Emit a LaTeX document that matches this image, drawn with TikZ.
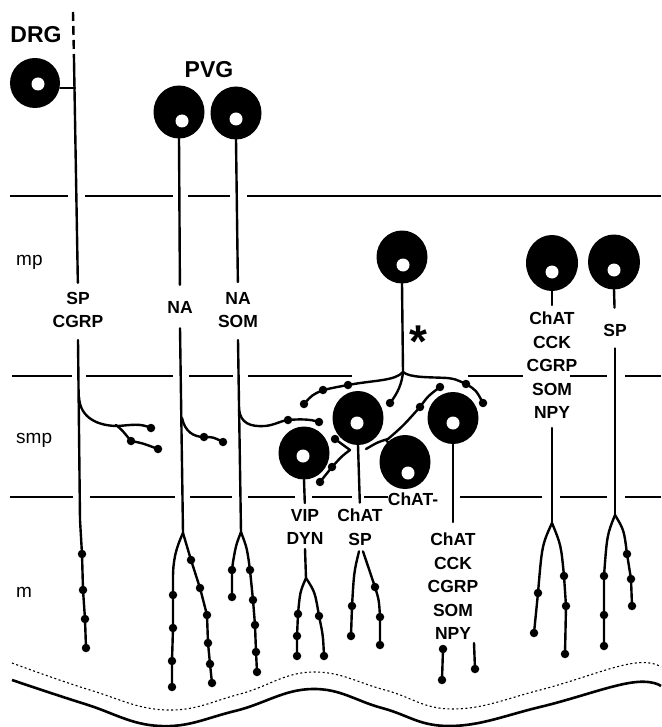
\documentclass[tikz,border=0pt]{standalone}
\usepackage{fontspec}
\setmainfont{Liberation Sans}
\usetikzlibrary{shapes.geometric}
\tikzset{
  cell/.style={ellipse, fill=black, minimum width=51pt, minimum height=53pt, inner sep=0pt},
  hole/.style={circle, fill=white, minimum size=13pt, inner sep=0pt},
  fibre/.style={line width=2.4pt, line cap=round, line join=round},
  layer/.style={line width=1.5pt},
  varic/.style={circle, fill=black, minimum size=8.5pt, inner sep=0pt},
  tag/.style={font=\bfseries\fontsize{17.5}{23.5}\selectfont, align=center, inner sep=0pt},
  zone/.style={font=\fontsize{19}{19}\selectfont, anchor=base west, inner sep=0pt},
  gang/.style={font=\bfseries\fontsize{23}{23}\selectfont, inner sep=0pt}
}

\begin{document}
\begin{tikzpicture}[x=1pt, y=-1pt]
  \useasboundingbox (0,0) rectangle (661,727);
  % layer boundaries
  \foreach \a/\b in {10/68, 85/173, 188/230, 247/661}
    \draw[layer] (\a,196) -- (\b,196);
  \foreach \a/\b in {12/72, 86/173, 189/233, 248/352, 468/523, 570/607, 625/661}
    \draw[layer] (\a,376) -- (\b,376);
  \foreach \a/\b in {10/73, 90/175, 190/232, 248/295, 312/352, 364/388, 460/542, 560/607, 625/661}
    \draw[layer] (\a,497) -- (\b,497);
  \node[zone] at (16,265) {mp};
  \node[zone] at (16,443) {smp};
  \node[zone] at (16,597) {m};

  % ganglia
  \node[gang] (dl) at (36,35) {DRG};
  \node[gang] (pl) at (209,70) {PVG};
  \node[cell, minimum width=50pt, minimum height=50pt] (d) at (35,83) {};
  \node[hole] at (38,84) {};
  \node[cell] (p1) at (179,112) {};
  \node[hole] at (182,121) {};
  \node[cell] (p2) at (236,113) {};
  \node[hole] at (236,119) {};

  % myenteric cells
  \node[cell] (s) at (402,257) {};
  \node[hole] at (403,265) {};
  \node[cell, minimum width=52pt, minimum height=56pt] (r1) at (552,263) {};
  \node[hole] at (552,272) {};
  \node[cell, minimum width=52pt, minimum height=55pt] (r2) at (614,262) {};
  \node[hole] at (614,270) {};

  % submucous cells
  \node[cell] (v) at (304,453) {};
  \node[hole] at (303,456) {};
  \node[cell, minimum height=54pt] (c) at (358,418) {};
  \node[hole] at (357,423) {};
  \node[cell, minimum height=54pt] (cm) at (405,462) {};
  \node[hole] at (408,473) {};
  \node[cell, minimum height=52pt] (k) at (453,418) {};
  \node[hole] at (453,423) {};

  % labels
  \node[tag] (sc) at (78,310) {SP\\CGRP};
  \node[tag] (n1) at (180,307) {NA};
  \node[tag] (n2) at (238,310) {NA\\SOM};
  \node[tag] (vd) at (305,527) {VIP\\DYN};
  \node[tag] (cs) at (360,527) {ChAT\\SP};
  \node[tag] (cl) at (413,499) {ChAT-};
  \node[tag] (mk) at (453,586.5) {ChAT\\CCK\\CGRP\\SOM\\NPY};
  \node[tag] (rk) at (552,365.5) {ChAT\\CCK\\CGRP\\SOM\\NPY};
  \node[tag] (sp) at (615,330) {SP};
  \node[font=\bfseries\fontsize{46}{46}\selectfont, anchor=base, inner sep=0pt] (ast) at (418,357) {*};

  % DRG fibre
  \draw[fibre, line cap=butt, dash pattern=on 9pt off 5pt] (73,12) -- (74,60);
  \draw[fibre, shorten >=9pt] (74,60) -- (sc.north);
  \draw[fibre] ([yshift=-5pt]d.east) -- (75,88);
  \draw[fibre] ([yshift=-12pt]sc.south) -- (80,520) -- (82,554) node[varic]{} -- (83,590) node[varic]{}
    -- (85,619) node[varic]{} -- (86,648) node[varic]{};
  \draw[fibre] (79,397) .. controls (80,418) and (98,426) .. (118,426)
    .. controls (132,425) and (140,423) .. (151,428) node[varic]{};
  \draw[fibre] (116,425) .. controls (122,430) .. (131,441) node[varic]{}
    .. controls (142,443) .. (158,449) node[varic]{};

  % PVG fibres
  \draw[fibre, shorten >=16pt] (p1.south) -- (n1.north);
  \draw[fibre] ([yshift=-15pt]n1.south) -- (183,533);
  \draw[fibre] (182,418) .. controls (185,432) and (194,437) .. (204,437) node[varic]{}
    .. controls (213,437) .. (223,442) node[varic]{};
  \draw[fibre] (183,533) .. controls (176,548) and (173,560) .. (173,578) -- (173,595) node[varic]{}
    -- (173,628) node[varic]{} -- (172,661) node[varic]{} -- (172,687) node[varic]{};
  \draw[fibre] (183,533) -- (191,560) node[varic]{} -- (200,588) node[varic]{} -- (207,615) node[varic]{}
    -- (208,643) node[varic]{} -- (210,664) node[varic]{} -- (212,683) node[varic]{};
  \draw[fibre, shorten >=10pt] (p2.south) -- (n2.north);
  \draw[fibre] ([yshift=-12pt]n2.south) -- (241,532);
  \draw[fibre] (239,410) .. controls (241,423) and (250,427) .. (265,426)
    .. controls (275,425) and (280,421) .. (288,420) node[varic]{}
    .. controls (300,419) and (310,419) .. (319,422) node[varic]{};
  \draw[fibre] (241,532) .. controls (236,545) .. (233,562) -- (232,570) node[varic]{} -- (232,597) node[varic]{};
  \draw[fibre] (241,532) .. controls (247,548) .. (250,570) node[varic]{} -- (253,600) node[varic]{}
    -- (255,625) node[varic]{} -- (256,652) node[varic]{} -- (257,672) node[varic]{};

  % starred cell
  \draw[fibre] (s.south) -- (403,372) coordinate (b);
  \draw[fibre] (b) .. controls (395,381) and (375,380) .. (348,385) node[varic]{}
    .. controls (337,387) .. (323,390) node[varic]{} .. controls (312,395) .. (304,404) node[varic]{};
  \draw[fibre] (b) .. controls (402,383) and (398,393) .. (390,403) node[varic]{};
  \draw[fibre] (b) .. controls (410,378) and (430,377) .. (447,378)
    .. controls (455,379) .. (466,384) node[varic]{} .. controls (476,390) .. (483,403) node[varic]{};

  % submucous processes
  \draw[fibre] (366,449) .. controls (378,442) .. (388,439) .. controls (403,426) .. (420,407) node[varic]{}
    .. controls (428,396) .. (440,387) node[varic]{};
  \draw[fibre] (386,440) -- (392,447);
  \draw[fibre] (335,439) node[varic]{} -- (350,450) .. controls (342,456) .. (332,467) node[varic]{}
    .. controls (326,474) .. (320,482) node[varic]{};

  \draw[fibre, shorten >=6pt] (v.south) -- (vd.north);
  \draw[fibre] ([yshift=-4pt]vd.south) -- (306,578);
  \draw[fibre] (306,578) .. controls (300,592) .. (298,614) node[varic]{} -- (297,636) node[varic]{} -- (297,656) node[varic]{};
  \draw[fibre] (306,578) .. controls (315,592) .. (319,616) node[varic]{} .. controls (323,635) .. (324,656) node[varic]{};

  \draw[fibre, shorten >=6pt] (c.south) -- (cs.north);
  \draw[fibre] ([xshift=-1pt, yshift=-6pt]cs.south) .. controls (354,572) .. (352,606) node[varic]{} -- (351,636) node[varic]{};
  \draw[fibre] ([xshift=3pt, yshift=-6pt]cs.south) -- (375,587) node[varic]{} .. controls (379,600) .. (380,617) node[varic]{} -- (380,645) node[varic]{};

  \draw[fibre, shorten >=11pt] (k.south) -- (mk.north);
  \draw[fibre] (443,649) node[varic]{} -- (442,680) node[varic]{};
  \draw[fibre] (474,643) -- (475,669) node[varic]{};

  % right cells
  \draw[fibre, shorten >=7pt] (r1.south) -- (rk.north);
  \draw[fibre] ([yshift=-9pt]rk.south) -- (552,523);
  \draw[fibre] (552,523) .. controls (542,545) .. (538,593) node[varic]{} -- (534,633) node[varic]{};
  \draw[fibre] (552,523) .. controls (561,545) .. (564,576) node[varic]{} -- (566,606) node[varic]{} -- (565,654) node[varic]{};
  \draw[fibre, shorten >=16pt] (r2.south) -- (sp.north);
  \draw[fibre] ([yshift=-12pt]sp.south) -- (615,515);
  \draw[fibre] (615,515) .. controls (607,535) .. (604,576) node[varic]{} -- (604,615) node[varic]{} -- (604,646) node[varic]{};
  \draw[fibre] (615,515) .. controls (624,530) .. (627,554) node[varic]{} -- (631,579) node[varic]{} -- (632,606) node[varic]{};

  % mucosa
  \draw[line width=1.1pt, dash pattern=on 2pt off 2.5pt] plot[smooth, tension=0.7] coordinates
    {(12,663) (90,690) (167,710) (240,694) (312,672) (385,690) (453,709) (540,690) (629,664) (661,667)};
  \draw[line width=2.6pt] plot[smooth, tension=0.7] coordinates
    {(12,680) (85,704) (160,726) (235,711) (312,689) (382,708) (450,726) (540,707) (629,683) (661,686)};
\end{tikzpicture}
\end{document}
